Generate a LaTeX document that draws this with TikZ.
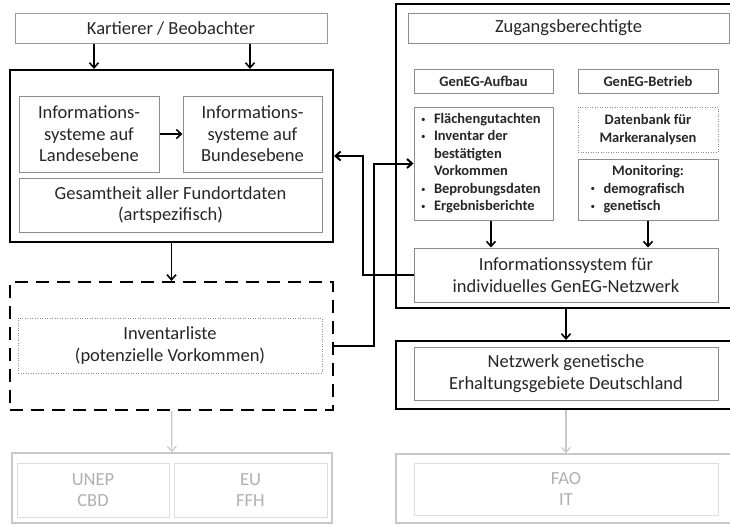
\documentclass[tikz,border=0pt]{standalone}
\usepackage{fontspec}
\setmainfont{Carlito}
\usepackage{tikz}
\usetikzlibrary{arrows.meta,positioning}
\definecolor{boxgray}{HTML}{8C8C8C}
\definecolor{ghostline}{HTML}{C8C8C8}
\definecolor{ghostinner}{HTML}{DEDEDE}
\definecolor{ghosttext}{HTML}{B0B0B0}
\definecolor{txt}{HTML}{262626}
\newcommand{\boxfont}{\fontsize{18.5}{21.5}\selectfont}
\newcommand{\tagfont}{\fontsize{14.5}{17.5}\selectfont\bfseries}
\newcommand{\dotitem}{\raisebox{1.2pt}{\fontsize{9}{9}\selectfont\mdseries\textbullet}}

\begin{document}
\begin{tikzpicture}[
  x=1pt, y=-1pt,
  box/.style={draw=boxgray, line width=1pt, align=center, inner sep=0pt, text=txt, font=\boxfont},
  tagbox/.style={box, font=\tagfont},
  frame/.style={draw=black, line width=2.2pt, inner sep=0pt},
  dashframe/.style={frame, dash pattern=on 13pt off 8pt},
  dotted box/.style={dash pattern=on 1pt off 1.5pt, line width=0.9pt},
  ghost/.style={draw=ghostinner, line width=1pt, align=center, inner sep=0pt, text=ghosttext, font=\boxfont},
  ghostframe/.style={draw=ghostline, line width=1.6pt, inner sep=0pt},
  arr/.style={-{Straight Barb[length=5pt,width=9pt]}, line width=1.6pt},
  link/.style={arr, line width=2pt},
  grayarr/.style={-{Straight Barb[length=5pt,width=9pt]}, line width=1.2pt, ghostline}
]
\useasboundingbox (0,0) rectangle (730,525);
\clip (0,0) rectangle (730,525);

% Left column: observers and data systems
\node[box, draw=black!40, minimum width=312pt, minimum height=30pt] (kart) at (171,28) {Kartierer / Beobachter};
\node[frame, minimum width=323pt, minimum height=172pt] (leftbig) at (171.5,156) {};
\node[box, minimum width=140pt, minimum height=76pt] (land) at (89,134) {Informations-\\systeme auf\\Landesebene};
\node[box, minimum width=139pt, minimum height=76pt] (bund) at (252.5,134) {Informations-\\systeme auf\\Bundesebene};
\node[box, minimum width=303pt, minimum height=54pt] (gesamt) at (170.5,205) {Gesamtheit aller Fundortdaten\\(artspezifisch)};

% Inventory list (dashed)
\node[dashframe, minimum width=323pt, minimum height=128pt] (inventar) at (171.5,346) {};
\node[box, dotted box, minimum width=304pt, minimum height=55pt] (invlist) at (170,345.5) {Inventarliste\\(potenzielle Vorkommen)};

% International level, left (grey)
\node[ghostframe, minimum width=320pt, minimum height=70pt] (intl) at (172,488) {};
\node[ghost, minimum width=152pt, minimum height=54pt] (unep) at (93,490) {UNEP\\CBD};
\node[ghost, minimum width=153pt, minimum height=54pt] (eu) at (250.5,490) {EU\\FFH};

% Right column: GenEG network
\node[frame, minimum width=349pt, minimum height=304pt] (rightbig) at (570.5,156) {};
\node[box, minimum width=321pt, minimum height=30pt] (zugang) at (568.5,28) {Zugangsberechtigte};
\node[tagbox, minimum width=139pt, minimum height=24pt] (aufbau) at (483.5,81) {GenEG-Aufbau};
\node[tagbox, minimum width=140pt, minimum height=24pt] (betrieb) at (648,81) {GenEG-Betrieb};
\node[tagbox, minimum width=139pt, minimum height=113pt] (bullets) at (483.5,163.5) {%
  \begin{tabular}{@{}p{8pt}@{\hspace{5pt}}p{112pt}@{}}
  \dotitem & Flächengutachten\\
  \dotitem & Inventar der\\
   & bestätigten\\
   & Vorkommen\\
  \dotitem & Beprobungsdaten\\
  \dotitem & Ergebnisberichte
  \end{tabular}};
\node[tagbox, dotted box, minimum width=140pt, minimum height=45pt] (datenbank) at (648,129.5) {Datenbank für\\Markeranalysen};
\node[tagbox, minimum width=140pt, minimum height=61pt] (monitor) at (648,189.5) {%
  \begin{tabular}{@{}p{8pt}@{\hspace{5pt}}p{102pt}@{}}
  \multicolumn{2}{c}{Monitoring:}\\
  \dotitem & demografisch\\
  \dotitem & genetisch
  \end{tabular}};
\node[box, minimum width=304pt, minimum height=54pt] (infosys) at (566,275) {Informationssystem für\\individuelles GenEG-Netzwerk};

% National network
\node[frame, minimum width=349pt, minimum height=68pt] (netzbig) at (570.5,375) {};
\node[box, minimum width=304pt, minimum height=53pt] (netz) at (566,373.5) {Netzwerk genetische\\Erhaltungsgebiete Deutschland};

% International level, right (grey)
\node[ghostframe, minimum width=349pt, minimum height=69pt] (faobig) at (570.5,488.5) {};
\node[ghost, minimum width=304pt, minimum height=52pt] (fao) at (566,489) {FAO\\IT};

% Arrows, left column
\draw[arr] ([xshift=-77pt]kart.south) -- ([xshift=-77pt]kart.south |- leftbig.north);
\draw[arr] ([xshift=79pt]kart.south) -- ([xshift=79pt]kart.south |- leftbig.north);
\draw[arr] (land) -- (bund);
\draw[arr] (leftbig) -- (inventar);
\draw[grayarr] (inventar) -- (intl);

% Arrows, right column
\draw[arr] ([xshift=7.5pt]bullets.south) -- ([xshift=7.5pt]bullets.south |- infosys.north);
\draw[arr] (monitor) -- (monitor |- infosys.north);
\draw[arr] (rightbig.south -| infosys) -- (infosys |- netzbig.north);
\draw[grayarr] (netzbig.south -| infosys) -- (infosys |- faobig.north);

% Links between the columns
\draw[link] (infosys.west) -- ++(-51pt,0) |- (leftbig.east);
\draw[link] (inventar.east) -- ++(40pt,0) |- (bullets.west);

\end{tikzpicture}
\end{document}
